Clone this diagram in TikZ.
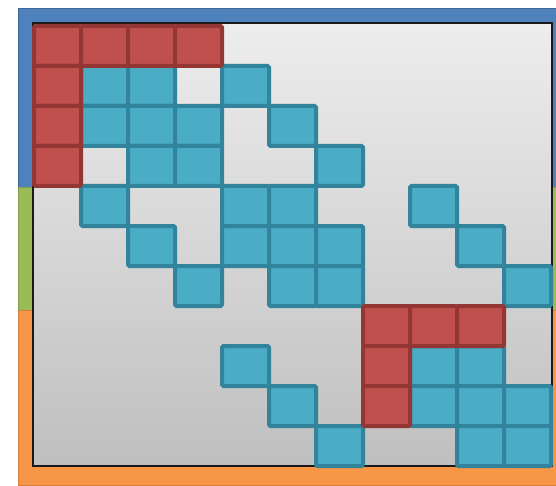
\documentclass[tikz,border=0pt]{standalone}
\usepackage{xcolor}
\usepackage{tikz}
\definecolor{mblue}{HTML}{4F81BD}
\definecolor{mgreen}{HTML}{9BBB59}
\definecolor{morange}{HTML}{F79646}
\definecolor{mred}{HTML}{C0504D}
\definecolor{mredline}{HTML}{943634}
\definecolor{mcyan}{HTML}{4BACC6}
\definecolor{mcyanline}{HTML}{31849B}

\begin{document}
\begin{tikzpicture}[x=1pt,y=-1pt,
  bluecell/.style={fill=mcyan,draw=mcyanline,line width=4pt,rounded corners=1.5pt},
  redcell/.style={fill=mred,draw=mredline,line width=4pt,rounded corners=1.5pt}]
  \useasboundingbox (0,0) rectangle (556,486);
  % row blocks behind the matrix
  \filldraw[mblue,draw=mblue!80!black] (18,8) rectangle (558,187);
  \filldraw[mgreen,draw=mgreen!85!black] (18,187) rectangle (558,310);
  \filldraw[morange,draw=morange!85!black] (18,310) rectangle (558,485);
  \shadedraw[top color=black!7,bottom color=black!25,draw=black!90,line width=1.2pt] (33,23) rectangle (552,466);

  % nonzeros, row/column
  \foreach \r/\c in {1/1,1/2,1/4, 2/1,2/2,2/3,2/5, 3/2,3/3,3/6,
                     4/1,4/4,4/5,4/8, 5/2,5/4,5/5,5/6,5/9, 6/3,6/5,6/6,6/10,
                     8/4,8/8,8/9, 9/5,9/8,9/9,9/10, 10/6,10/9,10/10}
    \draw[bluecell] ({34+47*\c},{26+40*\r}) rectangle +(47,40);
  \foreach \r/\c in {0/0,0/1,0/2,0/3, 1/0,2/0,3/0, 7/7,7/8,7/9, 8/7,9/7}
    \draw[redcell] ({34+47*\c},{26+40*\r}) rectangle +(47,40);
\end{tikzpicture}
\end{document}
